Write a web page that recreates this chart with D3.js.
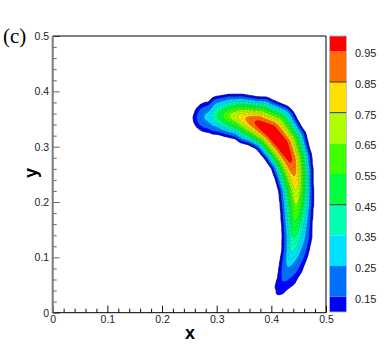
<!DOCTYPE html>
<meta charset="utf-8">
<style>

body {
  margin: 0;
  background: #fff;
}

svg {
  display: block;
  font-family: "Liberation Sans", Arial, sans-serif;
}

.tick text {
  font-size: 10.5px;
  fill: #222;
}

.legend text {
  font-size: 11px;
  fill: #222;
}

</style>

<svg width="390" height="347"></svg>

<script src="https://d3js.org/d3.v7.min.js"></script>
<script>

// ridge of the field (crest line), in data units
var ridgeX   = [0.284, 0.293, 0.306, 0.324, 0.343, 0.357, 0.374, 0.398, 0.420, 0.434, 0.441, 0.445, 0.445, 0.443, 0.440, 0.436, 0.430, 0.423, 0.414];
var ridgeY   = [0.354, 0.354, 0.356, 0.356, 0.354, 0.350, 0.343, 0.327, 0.303, 0.276, 0.253, 0.225, 0.195, 0.166, 0.137, 0.110, 0.084, 0.063, 0.046];
var ridgeVal = [0.28, 0.37, 0.51, 0.66, 0.79, 0.88, 0.98, 1.07, 1.07, 0.98, 0.88, 0.77, 0.66, 0.56, 0.46, 0.36, 0.26, 0.17, 0.12];
// half widths to the edge of the blob, convex (outer) side and concave (inner) side
var widthOut = [0.0255, 0.033, 0.035, 0.038, 0.040, 0.042, 0.049, 0.055, 0.047, 0.040, 0.035, 0.031, 0.031, 0.031, 0.033, 0.031, 0.027, 0.022, 0.013];
var widthIn  = [0.027, 0.031, 0.035, 0.038, 0.040, 0.044, 0.042, 0.038, 0.040, 0.036, 0.035, 0.031, 0.028, 0.024, 0.019, 0.016, 0.015, 0.011, 0.007];
var edgeValue = 0.1;

var levels = [0.15, 0.25, 0.35, 0.45, 0.55, 0.65, 0.75, 0.85, 0.95];
var dashedLevels = [0.2, 0.3, 0.4, 0.5, 0.6, 0.7, 0.8, 0.9];
var bandColors = ["#0000ff", "#0070ff", "#00e0ff", "#00ffb0", "#00ff40",
                  "#40ff00", "#b0ff00", "#ffe000", "#ff7000", "#ff0000"];
var legendMin = 0.1, legendMax = 1.0;
var legendLines = [0.45, 0.75, 0.85];

var xTicks = [0, 0.1, 0.2, 0.3, 0.4, 0.5];
var yTicks = [0, 0.1, 0.2, 0.3, 0.4, 0.5];
var minorTicks = [0.02, 0.04, 0.06, 0.08, 0.12, 0.14, 0.16, 0.18, 0.22, 0.24, 0.26, 0.28,
                  0.32, 0.34, 0.36, 0.38, 0.42, 0.44, 0.46, 0.48];

var svg = d3.select("svg");

var x = d3.scaleLinear().domain([0, 0.5]).range([52.7, 326]),
    y = d3.scaleLinear().domain([0, 0.5]).range([312.7, 36]);

// cross profile: linear flanks, rounded crest
var c = 0.25, top0 = Math.sqrt(1 + c * c);
function profile(s) {
  return (top0 - Math.sqrt(s * s + c * c)) / (top0 - c);
}

function field(px, py) {
  var best = Infinity, bk = 0, bu = 0, side = 1;
  for (var k = 0; k < ridgeX.length - 1; k++) {
    var ax = ridgeX[k], ay = ridgeY[k],
        dx = ridgeX[k + 1] - ax, dy = ridgeY[k + 1] - ay;
    var u = ((px - ax) * dx + (py - ay) * dy) / (dx * dx + dy * dy);
    u = Math.max(0, Math.min(1, u));
    var qx = ax + u * dx - px, qy = ay + u * dy - py;
    var d2 = qx * qx + qy * qy;
    if (d2 < best) {
      best = d2; bk = k; bu = u;
      side = dx * (py - ay) - dy * (px - ax);
    }
  }
  var lerp = function(a) { return a[bk] + (a[bk + 1] - a[bk]) * bu; };
  var w = side > 0 ? lerp(widthOut) : lerp(widthIn);
  var s = Math.sqrt(best) / w;
  return s >= 1 ? 0 : edgeValue + (lerp(ridgeVal) - edgeValue) * profile(s);
}

var n = 320, step = 0.5 / n;
var grid = new Float64Array(n * n);
for (var j = 0; j < n; j++) {
  for (var i = 0; i < n; i++) {
    grid[i + j * n] = field((i + 0.5) * step, (j + 0.5) * step);
  }
}
// smooth the kinks at the ridge joints
if (d3.blur2) d3.blur2({data: grid, width: n}, 1);

var edgeLevel = 0.045;

var path = d3.geoPath(d3.geoTransform({
  point: function(gx, gy) { this.stream.point(x(gx * step), y(gy * step)); }
}));

var contours = d3.contours().size([n, n]);

var plot = svg.append("g");

plot.append("g")
    .attr("class", "bands")
  .selectAll("path")
  .data(contours.thresholds([edgeLevel].concat(levels))(grid))
  .enter()
  .append("path")
    .attr("d", path)
    .attr("fill", (d, i) => bandColors[i]);

plot.append("g")
  .selectAll("path")
  .data(contours.thresholds(dashedLevels)(grid))
  .enter()
  .append("path")
    .attr("d", path)
    .attr("fill", "none")
    .attr("stroke", "#222")
    .attr("stroke-opacity", 0.45)
    .attr("stroke-width", 0.55)
    .attr("stroke-dasharray", "2,1.5");

plot.append("g")
  .selectAll("path")
  .data(contours.thresholds(levels)(grid))
  .enter()
  .append("path")
    .attr("d", path)
    .attr("fill", "none")
    .attr("stroke", "#222")
    .attr("stroke-opacity", 0.35)
    .attr("stroke-width", 0.55);

plot.append("path")
    .datum(contours.thresholds([edgeLevel])(grid)[0])
    .attr("d", path)
    .attr("fill", "none")
    .attr("stroke", "#00007a")
    .attr("stroke-width", 1);

// axes: ticks point into the plot
var xAxis = svg.append("g")
    .attr("transform", "translate(0," + y(0) + ")")
    .call(d3.axisBottom(x).tickValues(xTicks).tickSize(-7).tickPadding(2.5)
      .tickFormat(d => d === 0 ? "0" : d3.format(".1f")(d)));
svg.append("g")
    .attr("transform", "translate(0," + y(0) + ")")
    .call(d3.axisBottom(x).tickValues(minorTicks).tickSize(-4).tickFormat(""));

var yAxis = svg.append("g")
    .attr("transform", "translate(" + x(0) + ",0)")
    .call(d3.axisLeft(y).tickValues(yTicks).tickSize(-7).tickPadding(3.5)
      .tickFormat(d => d === 0 ? "0" : d3.format(".1f")(d)));
var yMinor = svg.append("g")
    .attr("transform", "translate(" + x(0) + ",0)")
    .call(d3.axisLeft(y).tickValues(minorTicks).tickSize(-4).tickFormat(""));

svg.selectAll(".domain").remove();
svg.selectAll(".tick line").attr("stroke", "#111");
yAxis.selectAll(".tick line").attr("stroke", "#666");
yMinor.selectAll(".tick line").attr("stroke", "#666");

svg.append("path")
    .attr("d", "M" + x(0) + "," + y(0.5) + "H" + x(0.5) + "V" + y(0) + "H" + x(0))
    .attr("fill", "none")
    .attr("stroke", "#000")
    .attr("stroke-width", 1);
svg.append("line")
    .attr("x1", x(0)).attr("x2", x(0))
    .attr("y1", y(0.5)).attr("y2", y(0) + 0.5)
    .attr("stroke", "#7a7a7a")
    .attr("stroke-width", 2);

svg.append("text")
    .attr("x", 190)
    .attr("y", 339)
    .attr("text-anchor", "middle")
    .style("font-size", "18px")
    .style("font-weight", "bold")
    .text("x");

svg.append("text")
    .attr("transform", "translate(37,173) rotate(-90)")
    .attr("text-anchor", "middle")
    .style("font-size", "18px")
    .style("font-weight", "bold")
    .text("y");

svg.append("text")
    .attr("x", 3)
    .attr("y", 43)
    .style("font-family", "'Liberation Serif', 'Times New Roman', serif")
    .style("font-size", "21px")
    .text("(c)");

// colour legend
var ly = d3.scaleLinear().domain([legendMin, legendMax]).range([312, 36]);
var edges = [legendMin].concat(levels, [legendMax]);

var legend = svg.append("g").attr("class", "legend");

legend.selectAll("rect")
  .data(bandColors)
  .enter()
  .append("rect")
    .attr("x", 329.5)
    .attr("width", 17)
    .attr("y", (d, i) => ly(edges[i + 1]))
    .attr("height", (d, i) => ly(edges[i]) - ly(edges[i + 1]))
    .attr("fill", d => d);

legend.selectAll("line")
  .data(legendLines)
  .enter()
  .append("line")
    .attr("x1", 329.5).attr("x2", 346.5)
    .attr("y1", d => ly(d)).attr("y2", d => ly(d))
    .attr("stroke", "#333")
    .attr("stroke-width", 1);

legend.append("rect")
    .attr("x", 329.5)
    .attr("y", ly(legendMax))
    .attr("width", 17)
    .attr("height", ly(legendMin) - ly(legendMax))
    .attr("fill", "none")
    .attr("stroke", "#b8b8d8")
    .attr("stroke-width", 0.8);

legend.selectAll("text")
  .data(levels)
  .enter()
  .append("text")
    .attr("x", 355)
    .attr("y", d => ly(d) + 2)
    .attr("dy", "0.35em")
    .text(d => d3.format(".2f")(d));

</script>
